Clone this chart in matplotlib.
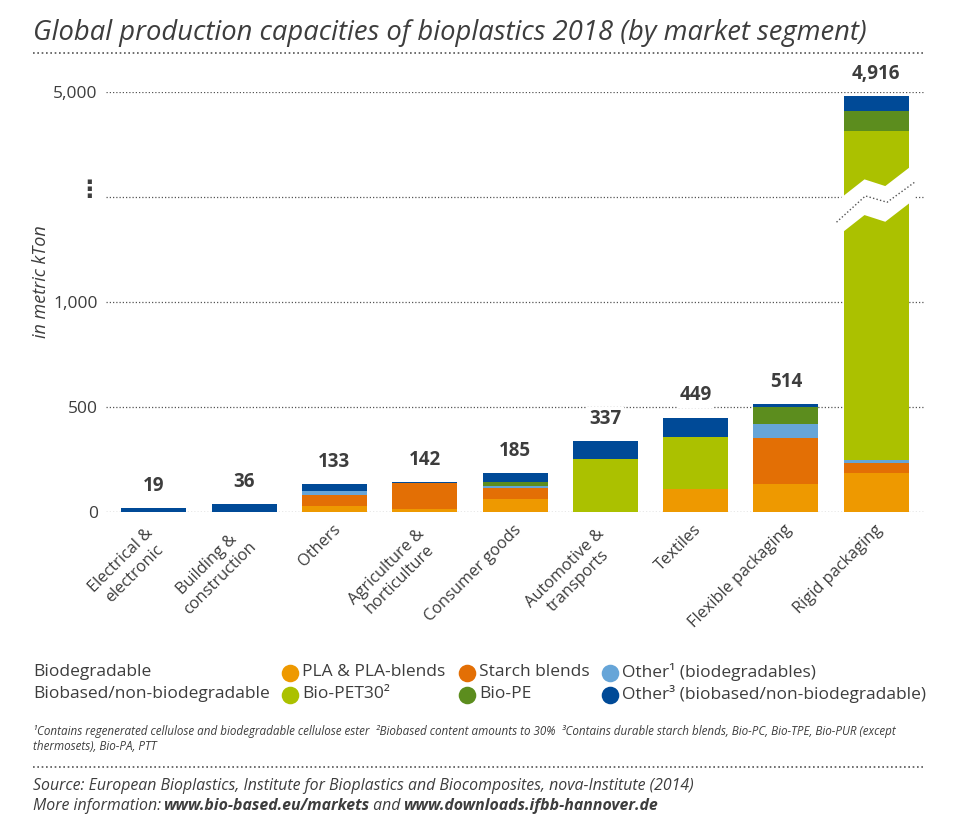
import numpy as np
import matplotlib
matplotlib.use("Agg")
import matplotlib.pyplot as plt
from matplotlib.transforms import offset_copy

# ---------------- data ----------------
categories = ["Electrical &\nelectronic", "Building &\nconstruction", "Others",
              "Agriculture &\nhorticulture", "Consumer goods", "Automotive &\ntransports",
              "Textiles", "Flexible packaging", "Rigid packaging"]
totals = [19, 36, 133, 142, 185, 337, 449, 514, 4916]
total_labels = ["19", "36", "133", "142", "185", "337", "449", "514", "4,916"]

pla          = [0, 0, 29, 15, 64, 0, 108, 132, 185]
starch       = [0, 0, 52, 125, 48, 0, 0, 221, 50]
other_biodeg = [0, 0, 21, 0, 10, 0, 0, 64, 13]
bio_pet30    = [0, 0, 0, 0, 0, 252, 248, 0, 4009]
bio_pe       = [0, 0, 0, 0, 19, 0, 0, 81, 387]
other_biobased = [19, 36, 31, 2, 44, 85, 93, 16, 272]

series = [
    ("PLA & PLA-blends", pla, "#EE9900"),
    ("Starch blends", starch, "#E36F05"),
    ("Other¹ (biodegradables)", other_biodeg, "#66A5D8"),
    ("Bio-PET30²", bio_pet30, "#ABC100"),
    ("Bio-PE", bio_pe, "#5C8D1E"),
    ("Other³ (biobased/non-biodegradable)", other_biobased, "#004A97"),
]

yticks = [0, 500, 1000, 3000, 5000]
ytick_labels = ["0", "500", "1,000", "", "5,000"]

TXT = "#3d3d3d"
FONT = "Open Sans"
plt.rcParams["font.family"] = [FONT, "DejaVu Sans"]

# ---------------- figure ----------------
W, H = 960, 832
fig = plt.figure(figsize=(W / 100, H / 100), dpi=100)

# overlay axes in pixel coordinates for page furniture
lax = fig.add_axes([0, 0, 1, 1])
lax.set_xlim(0, W)
lax.set_ylim(H, 0)
lax.axis("off")

def fwd(v):
    v = np.asarray(v, dtype=float)
    return np.where(v <= 1000, v, 1000 + (v - 1000) / 4.0)

def inv(u):
    u = np.asarray(u, dtype=float)
    return np.where(u <= 1000, u, 1000 + (u - 1000) * 4.0)

ax = fig.add_axes([106 / W, (H - 512) / H, (925 - 106) / W, (512 - 92) / H])
ax.set_yscale("function", functions=(fwd, inv))
ax.set_ylim(0, 5000)
ax.set_xlim(-0.53, 8.54)
for s in ax.spines.values():
    s.set_visible(False)

x = np.arange(len(categories))
bw = 0.72
bottom = np.zeros(len(categories))
for name, vals, col in series:
    vals = np.array(vals, dtype=float)
    ax.bar(x, vals, bw, bottom=bottom, color=col, zorder=3, linewidth=0)
    bottom += vals

# grid
ax.set_yticks(yticks)
ax.set_yticklabels(ytick_labels, fontsize=12.5, color=TXT)
ax.tick_params(axis="y", length=0, pad=6)
ax.set_xticks([])
ax.yaxis.grid(True, linestyle=(0, (1, 1.6)), color="#555555", linewidth=0.9, zorder=0)
ax.set_axisbelow(True)

# vertical-ellipsis tick for the break
ax.annotate("⋮", xy=(0, 3000), xycoords=("axes fraction", "data"),
            xytext=(-12, 5), textcoords="offset points", ha="center", va="center",
            fontsize=17, fontweight="bold", color=TXT, family="DejaVu Sans")

# y-axis title
lax.text(41, 282, "in metric kTon", rotation=90, ha="center", va="center",
         fontsize=13, style="italic", color=TXT)

# value labels
for xi, tot, lab in zip(x, totals, total_labels):
    ax.annotate(lab, xy=(xi, tot), xytext=(0, 16), textcoords="offset points",
                ha="center", va="center", fontsize=13.5, fontweight="bold", color=TXT,
                bbox=dict(facecolor="white", edgecolor="none", pad=1.5), zorder=6)

# axis break on the tallest bar (unit space -> value space through inv)
imax = int(np.argmax(totals))
xc = x[imax]
up_dx = np.array([-0.42, -0.13, 0.10, 0.42])
up_u = np.array([1486, 1584, 1552, 1658])
lo_u = up_u - 170
poly_x = np.concatenate([xc + up_dx, (xc + up_dx)[::-1]])
poly_y = np.concatenate([inv(up_u), inv(lo_u)[::-1]])
ax.fill(poly_x, poly_y, color="white", zorder=4, linewidth=0)
dot_dx = np.array([-0.44, -0.12, 0.12, 0.44])
dot_u = np.array([1380, 1505, 1475, 1575])
ax.plot(xc + dot_dx, inv(dot_u), linestyle=(0, (1, 1.6)), color="#555555",
        linewidth=1.0, zorder=5, clip_on=False)

# category labels
for xi, lab in zip(x, categories):
    nl = lab.count("\n") + 1
    tr = offset_copy(ax.get_xaxis_transform(), fig=fig, x=2.5,
                     y=-(11 + 7.5 * (nl - 1)), units="points")
    ax.text(xi, 0, lab, transform=tr, rotation=45, rotation_mode="anchor",
            ha="right", va="center", multialignment="center",
            fontsize=11.8, color=TXT)

# title and separators
lax.text(33, 40, "Global production capacities of bioplastics 2018 (by market segment)",
         ha="left", va="baseline", fontsize=19.7, style="italic", color=TXT)
for yy in (53, 767):
    lax.plot([33, 924], [yy, yy], linestyle=(0, (1, 1.6)), color="#555555", linewidth=1.2)

# legend
rows = [("Biodegradable", 672), ("Biobased/non-biodegradable", 694)]
for txt, yy in rows:
    lax.text(33, yy, txt, ha="left", va="center", fontsize=12.5, color=TXT)
leg_x = [290, 467, 610]
for k, (name, vals, col) in enumerate(series):
    r, c = divmod(k, 3)
    yy = rows[r][1]
    lax.scatter([leg_x[c]], [yy + 1], s=160, color=col, zorder=3, linewidths=0)
    lax.text(leg_x[c] + 12, yy, name, ha="left", va="center", fontsize=12.5, color=TXT)

# footnotes
lax.text(33, 731, "¹Contains regenerated cellulose and biodegradable cellulose ester  "
         "²Biobased content amounts to 30%  ³Contains durable starch blends, Bio-PC, "
         "Bio-TPE, Bio-PUR (except", ha="left", va="center", fontsize=8.35, style="italic", color=TXT)
lax.text(33, 746, "thermosets), Bio-PA, PTT", ha="left", va="center", fontsize=8.35,
         style="italic", color=TXT)

# source lines
lax.text(33, 786, "Source: European Bioplastics, Institute for Bioplastics and Biocomposites, "
         "nova-Institute (2014)", ha="left", va="center", fontsize=11.4, style="italic", color=TXT)

renderer = fig.canvas.get_renderer()
xx = 33
for piece, weight in [("More information: ", "normal"), ("www.bio-based.eu/markets", "bold"),
                      (" and ", "normal"), ("www.downloads.ifbb-hannover.de", "bold")]:
    t = lax.text(xx, 806, piece, ha="left", va="center", fontsize=11.4, style="italic",
                 fontweight=weight, color=TXT)
    bb = t.get_window_extent(renderer=renderer)
    xx = bb.x1 * W / fig.bbox.width
    if piece.endswith(" "):
        xx -= 2

fig.savefig("out.png", dpi=100, facecolor="white")
